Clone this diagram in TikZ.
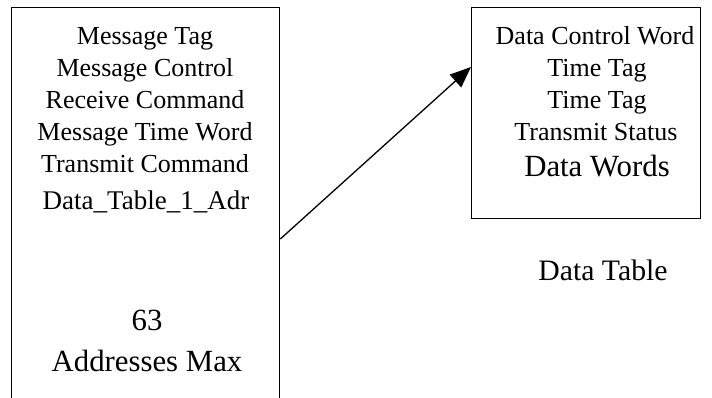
\documentclass[tikz,border=0pt]{standalone}
\usepackage{fontspec}
\setmainfont{Liberation Serif}
\usetikzlibrary{arrows.meta}
\begin{document}
\begin{tikzpicture}[x=1pt,y=-1pt,
  box/.style={draw,line width=1.3pt,inner sep=0pt,anchor=north west},
  txt/.style={anchor=base,inner sep=0pt,font=\fontsize{26}{30}\selectfont},
  big/.style={anchor=base,inner sep=0pt,font=\fontsize{30.8}{34}\selectfont},
  conn/.style={line width=1.3pt,-{Triangle[length=21pt,width=17pt]}}]
\useasboundingbox (0,0) rectangle (712,398);
\clip (0,0) rectangle (712,398);
\node[box,minimum width=268pt,minimum height=440pt] (L) at (11,7) {};
\node[box,minimum width=229pt,minimum height=211pt] (R) at (471,7) {};
% left box texts
\node[txt] (l1) at (145,45) {Message Tag};
\node[txt] (l2) at (145,77) {Message Control};
\node[txt] (l3) at (145,109) {Receive Command};
\node[txt] (l4) at (145,141) {Message Time Word};
\node[txt] (l5) at (145,173) {Transmit Command};
\node[anchor=base,inner sep=0pt,font=\fontsize{27}{30}\selectfont] (l6) at (146,210) {Data\_Table\_1\_Adr};
\node[big] (l7) at (147,330) {63};
\node[big] (l8) at (147,371) {Addresses Max};
% right box texts
\node[txt] (r1) at (595,45) {Data Control Word};
\node[txt] (r2) at (597,77) {Time Tag};
\node[txt] (r3) at (597,109) {Time Tag};
\node[txt] (r4) at (596,141) {Transmit Status};
\node[big] (r5) at (597,177) {Data Words};
\node[anchor=base,inner sep=0pt,font=\fontsize{29.7}{34}\selectfont] (dt) at (603,280) {Data Table};
% connector
\path (L.north east) ++(0,232) coordinate (s);
\path (R.north west) ++(0,60) coordinate (t);
\draw[conn] (s) -- (t);
\end{tikzpicture}
\end{document}
